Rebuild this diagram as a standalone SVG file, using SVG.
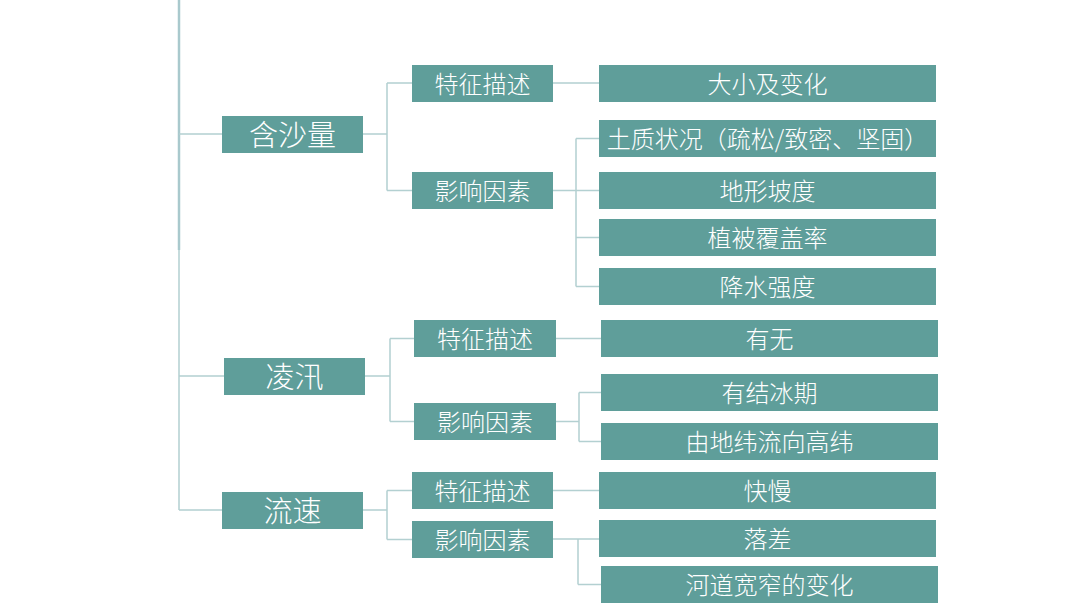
<svg xmlns="http://www.w3.org/2000/svg" width="1080" height="608" viewBox="0 0 1080 608">
<style>
.box{fill:#5f9e9a}
.t{fill:#ffffff;font-family:"Noto Sans CJK SC","Noto Sans",sans-serif;font-weight:300;text-anchor:middle;dominant-baseline:central}
.l1{font-size:29px}
.l2{font-size:24px}
.l3{font-size:24px}
.c{stroke:#b3d0d1;stroke-width:1.5;fill:none}
</style>
<rect width="1080" height="608" fill="#ffffff"/>
<g id="connectors">
<line x1="179" y1="0" x2="179" y2="250" stroke="#a9c9cd" stroke-width="2.5"/>
<path class="c" d="M179 250V510M179 134H222M179 376H224M179 510H222"/>
<path class="c" d="M363 134H387M387 83V190.5M387 83H412M387 190.5H412M553 83H599M553 190.5H576M576 138.5V286.5M576 138.5H599M576 190.5H599M576 237.5H599M576 286.5H599"/>
<path class="c" d="M365 376H390M390 338.5V421.5M390 338.5H414M390 421.5H414M556 338.5H601M556 421.5H579M579 392.5V441.5M579 392.5H601M579 441.5H601"/>
<path class="c" d="M363 510H387M387 490.5V539.5M387 490.5H412M387 539.5H412M553 490.5H599M553 539H578M578 539V584.5M578 539H599M578 584.5H601"/>
</g>
<g id="n-hanshaliang"><rect class="box" x="222" y="116" width="141" height="37"/><text class="t l1" x="292.5" y="133">含沙量</text></g>
<g id="n-lingxun"><rect class="box" x="224" y="358" width="141" height="37"/><text class="t l1" x="294.5" y="375">凌汛</text></g>
<g id="n-liusu"><rect class="box" x="222" y="492" width="141" height="37"/><text class="t l1" x="292.5" y="509">流速</text></g>
<g id="n-tz1"><rect class="box" x="412" y="65" width="141" height="37"/><text class="t l2" x="482.5" y="82.5">特征描述</text></g>
<g id="n-yx1"><rect class="box" x="412" y="172" width="141" height="37"/><text class="t l2" x="482.5" y="189.5">影响因素</text></g>
<g id="n-tz2"><rect class="box" x="414" y="320" width="142" height="37"/><text class="t l2" x="485" y="337.5">特征描述</text></g>
<g id="n-yx2"><rect class="box" x="414" y="403" width="142" height="37"/><text class="t l2" x="485" y="420.5">影响因素</text></g>
<g id="n-tz3"><rect class="box" x="412" y="472" width="141" height="37"/><text class="t l2" x="482.5" y="489.5">特征描述</text></g>
<g id="n-yx3"><rect class="box" x="412" y="521" width="141" height="37"/><text class="t l2" x="482.5" y="538.5">影响因素</text></g>
<g id="n-daxiao"><rect class="box" x="599" y="65" width="337" height="37"/><text class="t l3" x="767.5" y="82.5">大小及变化</text></g>
<g id="n-tuzhi"><rect class="box" x="599" y="120" width="337" height="37"/><text class="t l3" x="767.5" y="137.5">土质状况（疏松/致密、坚固）</text></g>
<g id="n-dixing"><rect class="box" x="599" y="172" width="337" height="37"/><text class="t l3" x="767.5" y="189.5">地形坡度</text></g>
<g id="n-zhibei"><rect class="box" x="599" y="219" width="337" height="37"/><text class="t l3" x="767.5" y="236.5">植被覆盖率</text></g>
<g id="n-jiangshui"><rect class="box" x="599" y="268" width="337" height="37"/><text class="t l3" x="767.5" y="285.5">降水强度</text></g>
<g id="n-youwu"><rect class="box" x="601" y="320" width="337" height="37"/><text class="t l3" x="769.5" y="337.5">有无</text></g>
<g id="n-jiebing"><rect class="box" x="601" y="374" width="337" height="37"/><text class="t l3" x="769.5" y="391.5">有结冰期</text></g>
<g id="n-diwei"><rect class="box" x="601" y="423" width="337" height="37"/><text class="t l3" x="769.5" y="440.5">由地纬流向高纬</text></g>
<g id="n-kuaiman"><rect class="box" x="599" y="472" width="337" height="37"/><text class="t l3" x="767.5" y="489.5">快慢</text></g>
<g id="n-luocha"><rect class="box" x="599" y="520" width="337" height="37"/><text class="t l3" x="767.5" y="537.5">落差</text></g>
<g id="n-hedao"><rect class="box" x="601" y="566" width="337" height="37"/><text class="t l3" x="769.5" y="583.5">河道宽窄的变化</text></g>
</svg>
